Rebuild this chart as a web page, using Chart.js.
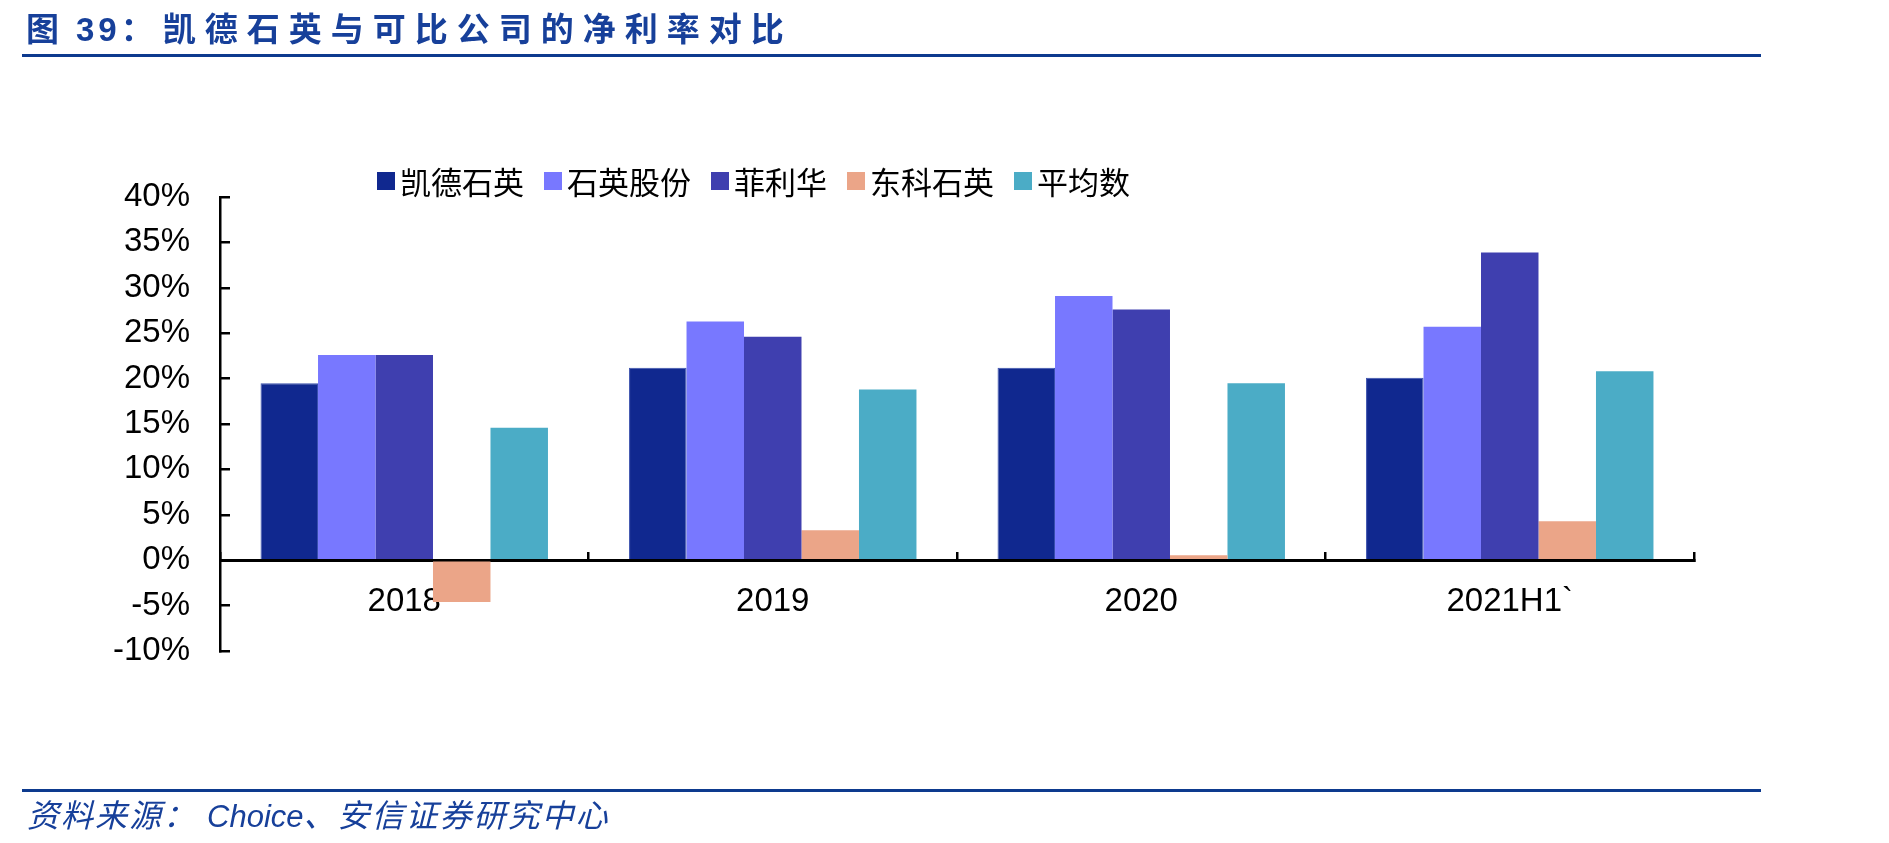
<!DOCTYPE html>
<html>
<head>
<meta charset="utf-8">
<script src="https://cdn.jsdelivr.net/npm/chart.js@4.4.1/dist/chart.umd.min.js"></script>
<style>
body{margin:0;background:#fff;}
#page{position:relative;width:1889px;height:843px;overflow:hidden;background:#fff;}
#wrap{position:absolute;left:0;top:0;width:1889px;height:843px;}
.title{position:absolute;left:26px;top:11px;height:33px;line-height:33px;font-size:33px;font-weight:bold;color:#17409a;
  font-family:"Noto Sans CJK SC",sans-serif;letter-spacing:9px;white-space:nowrap;}
.title .num{font-family:Arial,"Liberation Sans",sans-serif;margin-left:8px;letter-spacing:4px;}
.rule{position:absolute;left:22px;width:1739px;height:3px;background:#0d3a8e;}
.source{position:absolute;left:27px;top:797px;height:32px;line-height:32px;font-size:32px;color:#17409a;font-style:italic;
  font-family:"Noto Sans CJK SC",sans-serif;letter-spacing:2px;white-space:nowrap;}
.source .en{font-family:Arial,"Liberation Sans",sans-serif;font-size:31px;margin-left:10px;letter-spacing:0;}
#legend{position:absolute;left:377px;top:165px;height:31px;display:flex;align-items:center;white-space:nowrap;
  font-family:"Noto Sans CJK SC",sans-serif;font-size:31px;line-height:31px;color:#000;}
#legend .item{display:flex;align-items:center;margin-right:20px;}
#legend .box{width:18px;height:18px;margin-right:5px;}
</style>
</head>
<body>
<div id="page">
  <div id="wrap"><canvas id="myChart"></canvas></div>
  <div class="title">图<span class="num">39</span>：凯德石英与可比公司的净利率对比</div>
  <div class="rule" style="top:54px"></div>
  <div id="legend"></div>
  <div class="rule" style="top:789px"></div>
  <div class="source">资料来源：<span class="en">Choice</span>、安信证券研究中心</div>
</div>
<script>
var categories=["2018","2019","2020","2021H1`"];
var kaide=[19.5,21.2,21.2,20.1];
var shiying=[22.6,26.3,29.1,25.7];
var feilihua=[22.6,24.6,27.6,33.9];
var dongke=[-4.6,3.3,0.55,4.3];
var average=[14.6,18.8,19.5,20.8];
var yMin=-10, yMax=40, yStep=5;

var seriesNames=["凯德石英","石英股份","菲利华","东科石英","平均数"];
var seriesColors=["#10288f","#7878ff","#3f3faf","#eba588","#4bacc6"];
var seriesData=[kaide,shiying,feilihua,dongke,average];

var tickFont={family:'Arial, "Liberation Sans", sans-serif',size:33};

var datasets=[];
for(var i=0;i<seriesNames.length;i++){
  datasets.push({
    label:seriesNames[i],
    data:seriesData[i],
    backgroundColor:seriesColors[i],
    borderColor:i===0?"#3a50ad":seriesColors[i],
    borderWidth:i===0?1:0,
    barPercentage:1,
    categoryPercentage:0.78
  });
}

var ctx=document.getElementById("myChart").getContext("2d");
var chart=new Chart(ctx,{
  type:"bar",
  data:{labels:categories,datasets:datasets},
  options:{
    responsive:true,
    maintainAspectRatio:false,
    animation:false,
    devicePixelRatio:1,
    layout:{padding:{left:100,right:195,top:197,bottom:192}},
    plugins:{legend:{display:false},tooltip:{enabled:false}},
    scales:{
      x:{
        position:{y:0},
        z:1,
        grid:{display:true,drawOnChartArea:false,drawTicks:true,tickLength:-10,color:"#000",lineWidth:2.5},
        border:{display:true,color:"#000",width:3},
        ticks:{color:"#000",font:tickFont,padding:32,maxRotation:0}
      },
      y:{
        min:yMin,max:yMax,
        grid:{display:true,drawOnChartArea:false,drawTicks:true,tickLength:-10,color:"#000",lineWidth:2.5},
        border:{display:true,color:"#000",width:2.5},
        ticks:{stepSize:yStep,color:"#000",font:tickFont,padding:40,
          callback:function(v){return v+"%";}},
        afterFit:function(scale){scale.width=120;}
      }
    }
  }
});

// legend as html, built from the datasets
var legend=document.getElementById("legend");
chart.data.datasets.forEach(function(ds){
  var item=document.createElement("div");
  item.className="item";
  var box=document.createElement("span");
  box.className="box";
  box.style.background=ds.backgroundColor;
  var txt=document.createElement("span");
  txt.textContent=ds.label;
  item.appendChild(box);
  item.appendChild(txt);
  legend.appendChild(item);
});
</script>
</body>
</html>
